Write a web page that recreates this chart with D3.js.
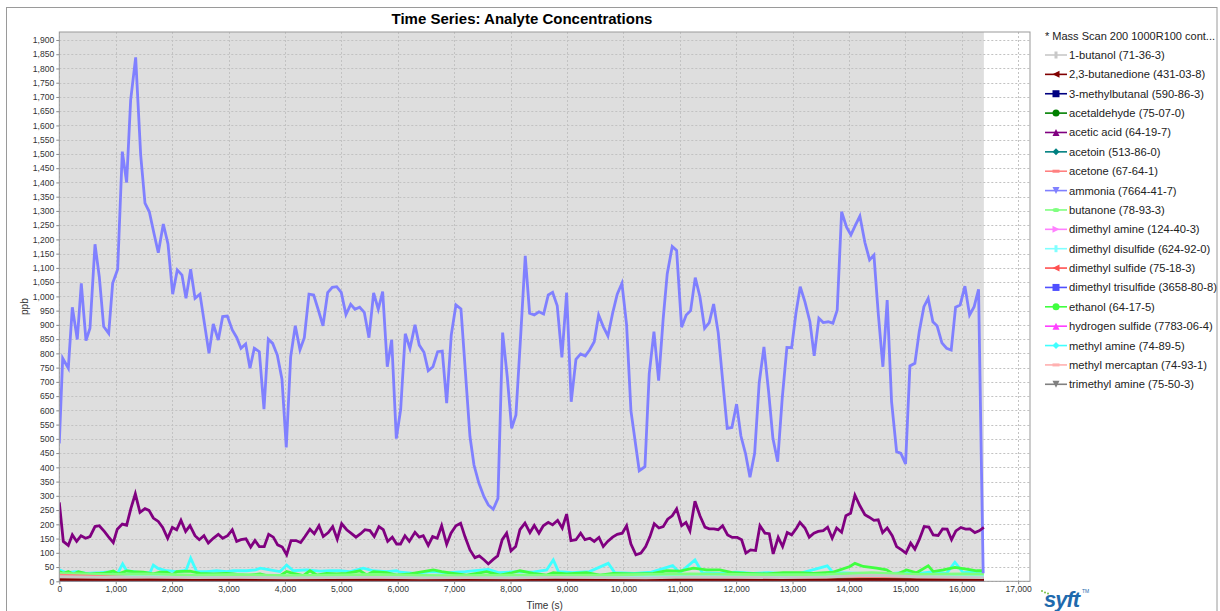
<!DOCTYPE html>
<html><head><meta charset="utf-8">
<script src="https://cdn.jsdelivr.net/npm/d3@7"></script>
<style>
html,body{margin:0;padding:0;background:#fff;}
svg{display:block;}
text{font-family:"Liberation Sans",Arial,sans-serif;}
</style></head>
<body>
<svg id="chart" width="1220" height="611"></svg>
<script>
// ---------------- DATA ----------------
const titleText = "Time Series: Analyte Concentrations";
const xLabel = "Time (s)";
const yLabel = "ppb";
const legendHeader = "* Mass Scan 200 1000R100 cont...";
const xTicks = d3.range(0, 17001, 1000);
const yTicks = d3.range(0, 1901, 50);

const seriesNames = [
  "1-butanol (71-36-3)", "2,3-butanedione (431-03-8)", "3-methylbutanal (590-86-3)",
  "acetaldehyde (75-07-0)", "acetic acid (64-19-7)", "acetoin (513-86-0)",
  "acetone (67-64-1)", "ammonia (7664-41-7)", "butanone (78-93-3)",
  "dimethyl amine (124-40-3)", "dimethyl disulfide (624-92-0)", "dimethyl sulfide (75-18-3)",
  "dimethyl trisulfide (3658-80-8)", "ethanol (64-17-5)", "hydrogen sulfide (7783-06-4)",
  "methyl amine (74-89-5)", "methyl mercaptan (74-93-1)", "trimethyl amine (75-50-3)"
];
const seriesColors = ["#c8c8c8","#800000","#000080","#008000","#800080","#008080",
  "#ff8080","#8080ff","#80ff80","#ff80ff","#80ffff","#ff5050",
  "#5050ff","#40ff40","#ff40ff","#40ffff","#ffb0b0","#808080"];
const seriesShapes = ["vrect","ltri","square","circle","utri","diamond","hrect","dtri","ellipse",
  "rtri","vrect","ltri","square","circle","utri","diamond","hrect","dtri"];

// [time, ppb]
const ammonia = [[0,484],[60,783],[160,748],[231,962],[319,849],[390,1046],[473,845],[544,888],
[633,1183],[709,1069],[787,894],[876,870],[946,1046],[1035,1095],[1117,1508],[1194,1400],[1265,1689],
[1354,1839],[1443,1496],[1519,1327],[1596,1297],[1679,1221],[1755,1153],[1844,1254],[1927,1184],
[2010,1008],[2092,1093],[2175,1075],[2246,993],[2329,1095],[2406,993],[2494,1008],[2654,800],
[2730,903],[2819,847],[2896,929],[2979,931],[3067,882],[3145,856],[3221,818],[3304,833],[3381,748],
[3457,818],[3546,806],[3629,604],[3705,850],[3783,835],[3865,794],[3948,709],[4024,470],[4102,788],
[4184,897],[4267,813],[4344,855],[4427,1008],[4510,1005],[4591,953],[4675,897],[4758,1013],
[4840,1032],[4918,1034],[4999,1014],[5082,936],[5166,972],[5242,955],[5325,962],[5407,944],
[5490,855],[5573,1012],[5655,955],[5733,1017],[5815,753],[5893,848],[5975,501],[6052,603],
[6134,869],[6217,817],[6306,900],[6382,829],[6465,804],[6541,739],[6625,753],[6708,806],[6790,808],
[6868,625],[6949,864],[7032,970],[7121,956],[7281,508],[7352,408],[7440,344],[7529,297],[7606,268],
[7694,253],[7777,291],[7860,873],[7942,718],[8020,537],[8096,584],[8179,859],[8261,1142],[8338,941],
[8421,935],[8504,946],[8587,938],[8669,1005],[8746,1014],[8828,967],[8911,786],[8995,1013],
[9076,630],[9160,779],[9243,798],[9325,791],[9402,812],[9484,841],[9562,935],[9644,894],[9727,861],
[9810,941],[9892,1008],[9975,1046],[10058,900],[10135,598],[10282,388],[10383,402],[10459,728],
[10543,876],[10626,704],[10707,923],[10778,1079],[10867,1175],[10945,1161],[11033,892],[11115,935],
[11193,950],[11275,1066],[11358,999],[11441,888],[11523,908],[11601,973],[11682,873],[11760,707],
[11842,537],[11925,540],[12008,622],[12085,510],[12168,447],[12245,365],[12328,449],[12409,697],
[12493,823],[12576,665],[12652,502],[12736,420],[12817,642],[12900,821],[12984,820],[13060,941],
[13136,1034],[13220,981],[13308,911],[13384,791],[13467,923],[13544,908],[13632,911],[13716,906],
[13792,952],[13870,1297],[13958,1243],[14035,1216],[14115,1250],[14194,1282],[14283,1189],
[14366,1128],[14443,1145],[14519,941],[14602,753],[14678,987],[14756,630],[14845,455],[14921,449],
[15004,412],[15081,756],[15169,765],[15246,876],[15329,964],[15405,993],[15488,911],[15564,896],
[15648,837],[15731,818],[15813,812],[15891,962],[15972,970],[16056,1036],[16139,935],[16220,964],
[16298,1025],[16380,28]];

const aceticAcid = [[0,277],[71,140],[160,126],[231,163],[308,140],[385,160],[468,151],[544,157],
[633,192],[709,195],[798,175],[869,157],[957,136],[1028,183],[1117,201],[1194,197],[1271,257],
[1348,307],[1430,242],[1519,255],[1590,249],[1667,222],[1755,210],[1833,189],[1921,151],[2004,189],
[2081,181],[2157,214],[2240,175],[2317,195],[2406,160],[2482,146],[2565,160],[2642,134],[2730,151],
[2819,165],[2896,151],[2985,160],[3067,181],[3145,140],[3221,146],[3310,149],[3393,120],[3469,143],
[3546,122],[3634,122],[3712,165],[3794,155],[3871,128],[3953,120],[4031,93],[4108,143],[4196,143],
[4279,136],[4356,157],[4444,183],[4521,167],[4604,195],[4680,157],[4769,171],[4847,192],[4928,148],
[5006,202],[5095,181],[5171,169],[5260,155],[5343,167],[5419,181],[5508,178],[5584,157],[5667,192],
[5744,181],[5822,140],[5904,155],[5981,131],[6050,131],[6128,160],[6205,140],[6306,172],[6382,155],
[6453,160],[6541,126],[6619,157],[6701,151],[6779,195],[6868,130],[6944,169],[7032,195],[7115,204],
[7192,157],[7281,110],[7369,83],[7446,89],[7534,75],[7606,61],[7694,77],[7772,89],[7853,146],
[7931,169],[8008,107],[8091,122],[8167,181],[8256,204],[8344,171],[8421,196],[8504,169],[8581,195],
[8669,207],[8746,198],[8835,214],[8917,187],[8995,236],[9071,143],[9160,146],[9243,169],[9320,146],
[9408,151],[9484,140],[9568,154],[9644,122],[9722,140],[9810,155],[9892,165],[9981,169],[10058,195],
[10135,131],[10223,93],[10312,99],[10396,122],[10472,157],[10548,202],[10631,187],[10707,192],
[10786,218],[10867,230],[10945,254],[11033,195],[11110,207],[11181,177],[11270,281],[11358,230],
[11447,190],[11523,184],[11606,184],[11682,181],[11760,195],[11849,163],[11931,154],[12019,154],
[12097,146],[12173,99],[12256,110],[12345,108],[12422,195],[12510,169],[12587,167],[12657,96],
[12746,154],[12824,122],[12906,171],[12984,163],[13072,187],[13131,207],[13220,187],[13296,155],
[13379,169],[13455,175],[13544,178],[13622,190],[13703,151],[13782,187],[13870,172],[13946,230],
[14029,239],[14106,302],[14194,265],[14283,234],[14359,225],[14443,214],[14519,216],[14597,171],
[14678,187],[14767,160],[14845,122],[14934,110],[15010,99],[15094,134],[15169,113],[15246,146],
[15334,192],[15417,190],[15494,163],[15582,161],[15660,184],[15741,183],[15819,146],[15896,177],
[15985,189],[16068,183],[16144,184],[16233,171],[16309,177],[16392,189]];

const ethanol = [[0,34],[72,28],[160,34],[249,25],[338,34],[456,28],[544,25],[663,28],[781,28],[958,36],
[1047,26],[1194,36],[1313,34],[1490,32],[1667,26],[1785,32],[1904,32],[2004,22],[2081,34],[2317,36],
[2494,28],[2731,26],[2967,28],[3085,26],[3322,20],[3558,26],[3676,20],[3913,20],[4031,34],[4149,28],
[4326,20],[4444,37],[4563,22],[4740,28],[4917,26],[5094,28],[5331,37],[5449,22],[5567,34],[5803,30],
[5980,22],[6217,26],[6631,40],[6779,34],[6985,28],[7222,22],[7576,34],[7813,22],[8020,30],[8167,37],
[8404,28],[8640,22],[8758,30],[8995,26],[9349,30],[9585,22],[9822,28],[10176,26],[10531,28],[10767,37],
[11004,36],[11240,46],[11476,40],[11713,40],[11949,30],[12186,28],[12540,26],[12835,30],[13131,30],
[13367,28],[13722,32],[14017,52],[14106,63],[14254,52],[14490,46],[14668,40],[14815,22],[15022,40],
[15199,30],[15406,54],[15495,34],[15672,40],[15879,49],[16086,43],[16263,37],[16393,37]];

const methylAmine = [[0,40],[131,30],[308,34],[485,28],[722,30],[958,34],[1040,30],[1123,61],[1194,37],
[1431,30],[1608,30],[1667,57],[1750,45],[1904,37],[2081,34],[2199,37],[2250,40],[2329,81],[2435,34],
[2613,34],[2790,37],[2967,34],[3085,37],[3322,37],[3480,40],[3564,46],[3735,40],[3913,34],[4031,57],
[4149,37],[4385,40],[4621,36],[4799,37],[4976,37],[5153,34],[5390,46],[5567,37],[5803,34],[5980,37],
[6040,32],[6300,28],[6600,34],[6900,30],[7200,34],[7606,42],[7800,30],[8100,34],[8400,32],[8640,40],
[8758,75],[8850,34],[9100,30],[9400,34],[9733,63],[9850,30],[10200,28],[10500,32],[10874,55],[11000,30],
[11270,75],[11400,30],[11700,28],[12000,32],[12300,28],[12570,30],[12900,26],[13131,28],[13616,54],
[13722,30],[14254,28],[14668,26],[14960,30],[15258,28],[15495,34],[15731,28],[15879,67],[16026,30],
[16204,34],[16393,34]];

// low-level series, sampled on a coarse time grid
const coarseT = [0,800,1600,2400,3200,4000,4800,5600,6400,7200,8000,8800,9600,10400,11200,12000,12800,13600,14400,15200,16000,16392];
const butanol1 =      [16,14,15,13,14,12,13,14,12,13,12,14,13,12,15,14,13,15,22,16,14,13];
const butanedione =   [6,5,5,5,4,5,5,4,5,4,5,5,4,5,6,5,5,5,6,5,5,5];
const methylbutanal = [3,2,3,2,2,3,2,3,2,2,3,2,2,3,2,2,3,2,3,2,2,2];
const acetaldehyde =  [4,3,4,3,3,4,3,3,4,3,4,5,4,7,6,4,3,4,6,4,3,4];
const acetoin =       [3,3,2,3,3,2,3,3,2,3,3,3,2,4,3,3,2,3,5,3,3,3];
const acetone =       [22,16,12,10,11,9,10,9,10,9,10,9,9,10,9,9,10,9,11,9,9,9];
const butanone =      [28,24,26,22,24,20,22,24,21,20,22,21,22,24,26,24,23,24,30,24,26,25];
const dimethylAmine = [1,1,1,1,1,1,1,1,1,1,1,1,1,1,1,1,1,1,1,1,1,1];
const dmDisulfide =   [20,18,20,17,19,18,17,18,17,18,17,18,17,18,19,18,17,18,20,18,19,18];
const dmSulfide =     [8,7,6,6,5,6,5,5,6,5,5,6,5,5,6,5,5,6,7,5,5,5];
const dmTrisulfide =  [2,2,2,2,2,2,2,2,2,2,2,2,2,2,2,2,2,2,3,2,2,2];
const h2s =           [1,1,1,1,1,1,1,1,1,1,1,1,1,1,1,1,1,1,1,1,1,1];
const methylMercaptan=[18,14,12,11,12,10,11,10,11,10,10,11,10,11,10,10,11,10,12,10,10,10];
const trimethylAmine= [3,3,3,3,3,3,3,3,3,3,3,3,3,3,3,3,3,3,4,3,3,3];

const zipC = v => coarseT.map((t,i)=>[t, v[i]]);
const seriesData = [zipC(butanol1), zipC(butanedione), zipC(methylbutanal), zipC(acetaldehyde),
  aceticAcid, zipC(acetoin), zipC(acetone), ammonia, zipC(butanone), zipC(dimethylAmine),
  zipC(dmDisulfide), zipC(dmSulfide), zipC(dmTrisulfide), ethanol, zipC(h2s), methylAmine,
  zipC(methylMercaptan), zipC(trimethylAmine)];
const dataEnd = 16392;

// ---------------- LAYOUT ----------------
const svg = d3.select("#chart");
const P = {left:59.3, right:1030, top:32, bottom:581.3};
const x = d3.scaleLinear().domain([0, 17210]).range([P.left, P.right]);
const y = d3.scaleLinear().domain([0, 1928]).range([P.bottom, P.top]);
const fmt = d3.format(",");

// outer border
svg.append("rect").attr("x",6.5).attr("y",7.5).attr("width",1210.5).attr("height",620)
  .attr("fill","#fff").attr("stroke","#9a9a9a").attr("stroke-width",1);

// title
svg.append("text").attr("x",522).attr("y",23.5).attr("text-anchor","middle")
  .attr("font-size",15).attr("font-weight","bold").attr("fill","#000").text(titleText);

// plot bg
svg.append("rect").attr("x",P.left).attr("y",P.top).attr("width",P.right-P.left).attr("height",P.bottom-P.top).attr("fill","#fff");
svg.append("rect").attr("x",x(0)).attr("y",P.top).attr("width",x(dataEnd)-x(0)).attr("height",P.bottom-P.top).attr("fill","#dedede");

// grid
const grid = svg.append("g").attr("stroke","#c2c2c2").attr("stroke-width",1).attr("stroke-dasharray","2,2");
grid.selectAll("line.gx").data(xTicks).join("line").attr("class","gx")
  .attr("x1",d=>Math.round(x(d))+0.5).attr("x2",d=>Math.round(x(d))+0.5).attr("y1",P.top).attr("y2",P.bottom);
grid.selectAll("line.gy").data(yTicks).join("line").attr("class","gy")
  .attr("y1",d=>Math.round(y(d))+0.5).attr("y2",d=>Math.round(y(d))+0.5).attr("x1",P.left).attr("x2",P.right);

// series (reverse order: last drawn first)
svg.append("clipPath").attr("id","pc").append("rect")
  .attr("x",P.left).attr("y",P.top).attr("width",P.right-P.left).attr("height",P.bottom-P.top);
const line = d3.line().x(d=>x(d[0])).y(d=>y(d[1]));
const gS = svg.append("g").attr("clip-path","url(#pc)");
for (let i = seriesData.length-1; i >= 0; i--) {
  gS.append("path").datum(seriesData[i]).attr("d", line)
    .attr("fill","none").attr("stroke",seriesColors[i]).attr("stroke-width",2.8)
    .attr("stroke-linejoin","miter").attr("stroke-miterlimit",4);
}

// plot outline
svg.append("rect").attr("x",P.left).attr("y",P.top).attr("width",P.right-P.left).attr("height",P.bottom-P.top)
  .attr("fill","none").attr("stroke","#999").attr("stroke-width",1);

// y axis
const yAx = svg.append("g").attr("transform",`translate(${P.left},0)`)
  .call(d3.axisLeft(y).tickValues(yTicks).tickFormat(fmt).tickSize(3).tickPadding(2));
yAx.select(".domain").remove();
yAx.selectAll("line").attr("stroke","#888");
yAx.selectAll("text").attr("font-size",8.6).attr("fill","#333").attr("font-family","Liberation Sans, Arial, sans-serif");

// x axis
const xAx = svg.append("g").attr("transform",`translate(0,${P.bottom})`)
  .call(d3.axisBottom(x).tickValues(xTicks).tickFormat(fmt).tickSize(3).tickPadding(2));
xAx.select(".domain").remove();
xAx.selectAll("line").attr("stroke","#888");
xAx.selectAll("text").attr("font-size",8.6).attr("fill","#333").attr("font-family","Liberation Sans, Arial, sans-serif");

// axis labels
svg.append("text").attr("x",(P.left+P.right)/2).attr("y",609).attr("text-anchor","middle")
  .attr("font-size",10).attr("fill","#333").text(xLabel);
svg.append("text").attr("transform",`translate(28,${(P.top+P.bottom)/2}) rotate(-90)`).attr("text-anchor","middle")
  .attr("font-size",10).attr("fill","#333").text(yLabel);

// legend
const lg = svg.append("g");
lg.append("text").attr("x",1045).attr("y",40).attr("font-size",11).attr("fill","#222").text(legendHeader);
function drawShape(g, shape, cx, cy, col) {
  const s = 3.5;
  let el;
  switch(shape){
    case "vrect": el = g.append("rect").attr("x",cx-1.5).attr("y",cy-s).attr("width",3).attr("height",2*s); break;
    case "hrect": el = g.append("rect").attr("x",cx-s).attr("y",cy-1.5).attr("width",2*s).attr("height",3); break;
    case "square": el = g.append("rect").attr("x",cx-s).attr("y",cy-s).attr("width",2*s).attr("height",2*s); break;
    case "circle": el = g.append("circle").attr("cx",cx).attr("cy",cy).attr("r",s); break;
    case "ellipse": el = g.append("ellipse").attr("cx",cx).attr("cy",cy).attr("rx",s).attr("ry",2); break;
    case "diamond": el = g.append("path").attr("d",`M${cx},${cy-s}L${cx+s},${cy}L${cx},${cy+s}L${cx-s},${cy}Z`); break;
    case "utri": el = g.append("path").attr("d",`M${cx},${cy-s}L${cx+s},${cy+s}L${cx-s},${cy+s}Z`); break;
    case "dtri": el = g.append("path").attr("d",`M${cx},${cy+s}L${cx+s},${cy-s}L${cx-s},${cy-s}Z`); break;
    case "ltri": el = g.append("path").attr("d",`M${cx-s},${cy}L${cx+s},${cy-s}L${cx+s},${cy+s}Z`); break;
    case "rtri": el = g.append("path").attr("d",`M${cx+s},${cy}L${cx-s},${cy-s}L${cx-s},${cy+s}Z`); break;
  }
  el.attr("fill",col);
}
seriesNames.forEach((name,i)=>{
  const cy = 55 + i*19.37;
  const g = lg.append("g");
  g.append("line").attr("x1",1045).attr("x2",1067).attr("y1",cy).attr("y2",cy)
    .attr("stroke",seriesColors[i]).attr("stroke-width",1.6);
  drawShape(g, seriesShapes[i], 1056, cy, seriesColors[i]);
  g.append("text").attr("x",1069).attr("y",cy+4).attr("font-size",11.2).attr("fill","#222").text(name);
});

// logo
const logo = svg.append("g");
[[1042,591],[1045,592.5],[1048,593.5]].forEach(p=>logo.append("circle").attr("cx",p[0]).attr("cy",p[1]).attr("r",1).attr("fill","#7ac143"));
logo.append("text").attr("x",1044).attr("y",607).attr("font-size",22).attr("font-weight","bold").attr("font-style","italic")
  .attr("fill","#1f6aad").attr("letter-spacing",-1).text("syft");
logo.append("text").attr("x",1082).attr("y",593).attr("font-size",5).attr("fill","#1f6aad").text("TM");
</script>
</body></html>
